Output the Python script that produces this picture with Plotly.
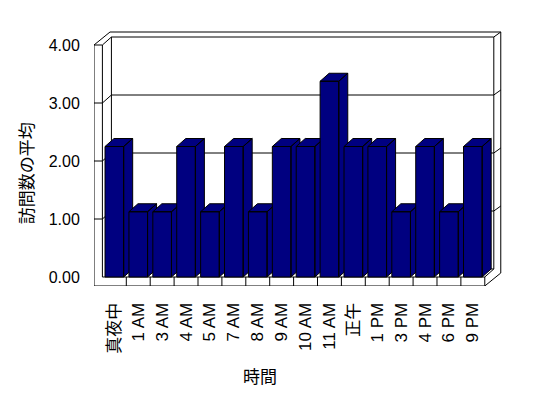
import plotly.graph_objects as go

# ---- data ----
categories = ["真夜中", "1 AM", "3 AM", "4 AM", "5 AM", "7 AM", "8 AM", "9 AM",
              "10 AM", "11 AM", "正午", "1 PM", "3 PM", "4 PM", "6 PM", "9 PM"]
avg_visits = [2.25, 1.125, 1.125, 2.25, 1.125, 2.25, 1.125, 2.25,
              2.25, 3.375, 2.25, 2.25, 1.125, 2.25, 1.125, 2.25]
y_tick_vals = [0, 1, 2, 3, 4]
y_tick_text = ["0.00", "1.00", "2.00", "3.00", "4.00"]
x_title = "時間"
y_title = "訪問数の平均"

# ---- 3D look parameters (in axis units) ----
n = len(categories)
a1, b1 = 0.377, 0.138     # bar depth / inner back wall offset
a2, b2 = 0.669, 0.224     # outer back wall offset
L = -0.851                # outer face of left wall
R = n - 0.5               # right end of floor
T = 4.0                   # top of walls
F = -0.155                # bottom of floor slab
w = 0.39                  # half bar width
navy = "#000080"

fig = go.Figure()

# frame lines
segs = []
def seg(p, q):
    segs.append((p, q))

seg((L, F), (L, T))
seg((-0.5, 0), (-0.5, T))
seg((L, T), (-0.5, T))
seg((L, T), (L + a2, T + b2))
seg((-0.5, T), (-0.5 + a1, T + b1))
seg((L + a2, T + b2), (R + a2, T + b2))
seg((-0.5 + a1, T + b1), (R + a1, T + b1))
seg((-0.5 + a1, b1), (-0.5 + a1, T + b1))
seg((R + a1, b1), (R + a1, T + b1))
seg((R + a2, F + b2), (R + a2, T + b2))
seg((R + a1, T + b1), (R + a2, T + b2))
seg((-0.5, 0), (R, 0))
seg((L, F), (R, F))
seg((R, F), (R, 0))
seg((R, F), (R + a2, F + b2))
seg((R, 0), (R + a1, b1))
seg((-0.5 + a1, b1), (R + a1, b1))
for k in range(1, n):
    seg((k - 0.5, F), (k - 0.5, 0))
for v in y_tick_vals[1:-1]:
    seg((L, v), (-0.5, v))
    seg((-0.5, v), (-0.5 + a1, v + b1))
    seg((-0.5 + a1, v + b1), (R + a1, v + b1))
    seg((R + a1, v + b1), (R + a2, v + b2))

fx, fy = [], []
for p, q in segs:
    fx += [p[0], q[0], None]
    fy += [p[1], q[1], None]
fig.add_trace(go.Scatter(x=fx, y=fy, mode="lines", line=dict(color="black", width=1),
                         hoverinfo="skip", showlegend=False))

# bars (front, top, side faces), drawn left to right
for i, v in enumerate(avg_visits):
    xs = [i - w, i + w, i + w, i - w, i - w, None,
          i - w, i + w, i + w + a1, i - w + a1, i - w, None,
          i + w, i + w + a1, i + w + a1, i + w, i + w]
    ys = [0, 0, v, v, 0, None,
          v, v, v + b1, v + b1, v, None,
          0, b1, v + b1, v, 0]
    fig.add_trace(go.Scatter(x=xs, y=ys, mode="lines", fill="toself",
                             fillcolor=navy, line=dict(color="black", width=1),
                             hoverinfo="skip", showlegend=False))

font_lat = "Liberation Sans, Arial, Noto Sans CJK JP"
fig.update_layout(
    width=548, height=398,
    margin=dict(l=94, r=46, t=30, b=112),
    paper_bgcolor="white", plot_bgcolor="white",
    showlegend=False,
    xaxis=dict(range=[-0.8515, 16.22], showgrid=False, zeroline=False, showline=False,
               tickmode="array", tickvals=list(range(n)), ticktext=categories,
               tickangle=-90, ticks="outside", ticklen=9, tickcolor="rgba(0,0,0,0)",
               tickfont=dict(family=font_lat, size=17, color="black"), fixedrange=True),
    yaxis=dict(range=[-0.155, 4.2586], showgrid=False, zeroline=False, showline=False,
               tickmode="array", tickvals=y_tick_vals, ticktext=y_tick_text,
               ticks="outside", ticklen=10, tickcolor="rgba(0,0,0,0)",
               tickfont=dict(family=font_lat, size=16, color="black"), fixedrange=True),
    annotations=[
        dict(text=y_title, xref="paper", yref="paper", x=-0.169, y=0.441,
             xanchor="center", yanchor="middle",
             textangle=-90, showarrow=False,
             font=dict(family="Noto Sans CJK JP", size=17, color="black")),
        dict(text=x_title, xref="paper", yref="paper", x=0.407, y=-0.348,
             xanchor="center", yanchor="middle",
             showarrow=False,
             font=dict(family="Noto Sans CJK JP", size=17, color="black")),
    ],
)

fig.write_html("out.html")
